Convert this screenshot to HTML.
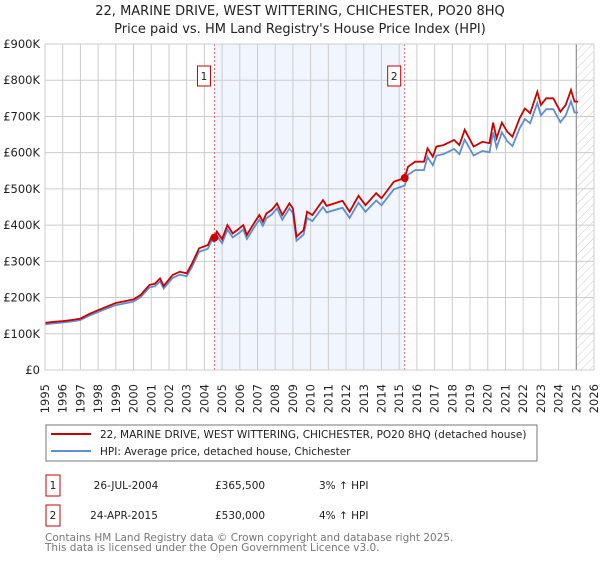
<!DOCTYPE html>
<html><head><meta charset="utf-8"><style>
body{margin:0;background:#fff;font-family:"DejaVu Sans","Liberation Sans",sans-serif;}
svg text{font-family:"DejaVu Sans","Liberation Sans",sans-serif;}
</style></head><body>
<svg id="chart" width="600" height="560" xmlns="http://www.w3.org/2000/svg">
<defs><pattern id="hatch" width="6" height="6" patternUnits="userSpaceOnUse" patternTransform="rotate(45)"><line x1="0" y1="0" x2="0" y2="6" stroke="#ccc" stroke-width="1"/></pattern></defs>
<text x="300" y="15" text-anchor="middle" font-size="13" fill="#222">22, MARINE DRIVE, WEST WITTERING, CHICHESTER, PO20 8HQ</text>
<text x="300" y="33" text-anchor="middle" font-size="13" fill="#222">Price paid vs. HM Land Registry's House Price Index (HPI)</text>
<g id="plot"></g>
<rect x="46" y="425" width="491" height="36" fill="#fff" stroke="#777"/>
<line x1="51" y1="434" x2="91" y2="434" stroke="#cc0000" stroke-width="2"/>
<text x="100" y="438" font-size="10.5" fill="#222">22, MARINE DRIVE, WEST WITTERING, CHICHESTER, PO20 8HQ (detached house)</text>
<line x1="51" y1="451" x2="91" y2="451" stroke="#5b8fd6" stroke-width="2"/>
<text x="100" y="455" font-size="10.5" fill="#222">HPI: Average price, detached house, Chichester</text>
<rect x="46" y="475" width="14" height="21" fill="#fff" stroke="#cc0000"/>
<text x="53" y="489" text-anchor="middle" font-size="10.5" fill="#222">1</text>
<text x="126" y="489" text-anchor="middle" font-size="10.5" fill="#222">26-JUL-2004</text>
<text x="215" y="489" font-size="10.5" fill="#222">£365,500</text>
<text x="319" y="489" font-size="10.5" fill="#222">3% ↑ HPI</text>
<rect x="46" y="505" width="14" height="21" fill="#fff" stroke="#cc0000"/>
<text x="53" y="519" text-anchor="middle" font-size="10.5" fill="#222">2</text>
<text x="124" y="519" text-anchor="middle" font-size="10.5" fill="#222">24-APR-2015</text>
<text x="215" y="519" font-size="10.5" fill="#222">£530,000</text>
<text x="319" y="519" font-size="10.5" fill="#222">4% ↑ HPI</text>
<text x="45" y="541" font-size="10.5" fill="#777">Contains HM Land Registry data © Crown copyright and database right 2025.</text>
<text x="45" y="551" font-size="10.5" fill="#777">This data is licensed under the Open Government Licence v3.0.</text>
</svg>
<script>
const years=[1995.0,1995.5,1996.0,1996.5,1997.0,1997.5,1998.0,1998.5,1999.0,1999.5,2000.0,2000.4,2000.9,2001.2,2001.5,2001.7,2002.2,2002.6,2003.0,2003.3,2003.7,2004.2,2004.4,2004.57,2004.7,2005.0,2005.3,2005.6,2005.9,2006.2,2006.4,2006.8,2007.1,2007.3,2007.5,2007.8,2008.1,2008.4,2008.8,2009.0,2009.2,2009.6,2009.8,2010.1,2010.7,2010.9,2011.8,2012.2,2012.7,2013.1,2013.7,2014.0,2014.7,2015.31,2015.5,2015.9,2016.4,2016.6,2016.9,2017.1,2017.5,2018.1,2018.4,2018.7,2019.2,2019.7,2020.1,2020.3,2020.5,2020.8,2021.1,2021.4,2021.8,2022.1,2022.4,2022.8,2023.0,2023.3,2023.7,2024.1,2024.4,2024.7,2024.9,2025.1];
const propertyValues=[130,133,135,138,142,155,165,175,185,190,195,207,235,238,253,232,262,271,267,294,336,345,368,365,382,361,400,377,388,400,373,405,428,410,432,442,460,428,460,446,368,386,437,428,469,453,467,437,481,455,488,474,520,530,561,575,575,612,589,617,621,635,621,663,617,630,626,683,640,683,658,644,695,722,709,768,732,750,750,713,732,773,741,741];
const hpiValues=[126,129,131,134,138,150,160,170,179,184,189,201,228,231,245,225,254,263,259,285,326,335,357,354,370,350,388,366,376,388,362,393,415,398,419,429,446,415,446,433,357,374,420,411,450,435,448,420,462,437,468,455,499,509,539,552,552,588,565,592,596,610,596,636,592,605,601,656,614,656,632,618,667,693,681,737,703,720,720,684,703,742,711,711];
const yTicks=[0,100,200,300,400,500,600,700,800,900];
const yTickLabels=["£0","£100K","£200K","£300K","£400K","£500K","£600K","£700K","£800K","£900K"];
const sales=[{n:"1",year:2004.57,value:365.5},{n:"2",year:2015.31,value:530}];
const X0=45,X1=594,Y0=370,Y1=44,ymin=1995,ymax=2026;
const xs=v=>X0+(v-ymin)/(ymax-ymin)*(X1-X0);
const ys=v=>Y0-v/900*(Y0-Y1);
const NS="http://www.w3.org/2000/svg";
const g=document.getElementById('plot');
function mk(t,a){const e=document.createElementNS(NS,t);for(const k in a)e.setAttribute(k,a[k]);g.appendChild(e);return e;}
let e;
e=mk('rect',{x:xs(sales[0].year),y:Y1,width:xs(sales[1].year)-xs(sales[0].year),height:Y0-Y1,fill:'#f1f5fd'});


e=mk('rect',{x:xs(2025.0),y:Y1,width:X1-xs(2025.0),height:Y0-Y1,fill:'url(#hatch)'});


for(let yr=1995;yr<=2026;yr++){
 e=mk('line',{x1:xs(yr),x2:xs(yr),y1:Y1,y2:Y0,stroke:'#ccc','stroke-width':1});
 
 
 e=mk('text',{transform:`translate(${xs(yr)+4},384) rotate(-90)`,'text-anchor':'end','font-size':'11.5',fill:'#222'});
 e.textContent=yr;
 
 
}
yTicks.forEach((v,i)=>{
 e=mk('line',{x1:X0,x2:X1,y1:ys(v),y2:ys(v),stroke:'#ccc','stroke-width':1});
 
 
 e=mk('text',{x:40,y:ys(v)+4,'text-anchor':'end','font-size':'11.5',fill:'#222'});
 e.textContent=yTickLabels[i];
 
 
});
e=mk('line',{x1:xs(2025.0),x2:xs(2025.0),y1:Y1,y2:Y0,stroke:'#888','stroke-width':1});


sales.forEach(s=>{
 e=mk('line',{x1:xs(s.year),x2:xs(s.year),y1:Y1,y2:Y0,stroke:'#e66','stroke-width':1,'stroke-dasharray':'2,2'});
 
 
 e=mk('rect',{x:xs(s.year)-17,y:66,width:13,height:20,fill:'#fff',stroke:'#cc0000'});
 
 
 e=mk('text',{x:xs(s.year)-10.5,y:80,'text-anchor':'middle','font-size':'10.5',fill:'#222'});
 e.textContent=s.n;
 
 
});
e=mk('path',{d:years.map((y,i)=>(i?'L':'M')+xs(y).toFixed(1)+','+ys(hpiValues[i]).toFixed(1)).join(''),fill:'none',stroke:'#5b8fd6','stroke-width':1.8});


e=mk('path',{d:years.map((y,i)=>(i?'L':'M')+xs(y).toFixed(1)+','+ys(propertyValues[i]).toFixed(1)).join(''),fill:'none',stroke:'#cc0000','stroke-width':1.8});


sales.forEach(s=>{
 e=mk('circle',{cx:xs(s.year),cy:ys(s.value),r:4,fill:'#cc0000'});
 
 
});
e=mk('rect',{x:X0,y:Y1,width:X1-X0,height:Y0-Y1,fill:'none',stroke:'#ccc'});


</script>
</body></html>
